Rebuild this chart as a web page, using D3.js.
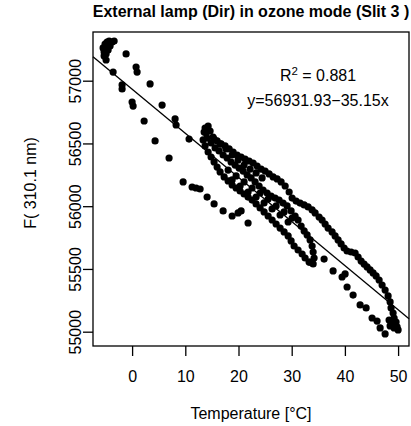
<!DOCTYPE html>
<html>
<head>
<meta charset="utf-8">
<script src="https://cdn.jsdelivr.net/npm/d3@7"></script>
<style>
body { margin: 0; background: #fff; }
svg { font-family: "Liberation Sans", Arial, Helvetica, sans-serif; }
</style>
</head>
<body>
<svg width="411" height="426"></svg>
<script>
// temperature [°C] and F(310.1 nm)
var temperature = [
  // cold start, top left
  -5.45, -5.08, -4.70, -4.32, -3.76, -3.38, -5.26, -5.26, -4.89, -4.51, -4.14, -4.89, -4.70,
  // sparse upper trail
  -1.13, 0.75, 0.94, 3.38, 5.64, 8.08, 8.27, 10.71,
  // sparse lower trail
  -3.57, -1.88, -1.88, 0.00, 0.19, 2.26, 4.32, 6.95, 9.59, 11.28, 12.03, 12.78, 14.10, 15.41, 17.11, 18.80, 19.92, 20.49, 21.80,
  // warm end, lower trail
  36.09, 37.78, 39.47, 40.04, 40.41, 41.54, 42.86, 43.99, 45.11, 46.05, 46.62, 47.56,
  // loop, upper outer band
  13.72, 13.91, 14.29, 14.66, 15.22, 15.98, 16.73, 17.48, 18.24, 18.99, 19.74, 20.49, 21.24, 21.99, 22.75, 23.50,
  24.25, 25.00, 25.76, 26.51, 27.26, 28.01, 28.77, 29.52, 30.08, 30.83, 31.58, 32.34, 33.09, 33.84, 34.40, 35.15,
  35.71, 36.28, 36.84, 37.59, 38.16, 38.72, 39.28, 39.85, 40.41, 41.17, 41.92, 42.48, 43.05, 43.61, 44.17, 44.74,
  45.30, 45.86, 46.43, 46.99, 47.56, 48.12, 48.50, 48.68, 49.06, 49.25, 49.62, 49.81, 49.25, 48.50, 48.31, 48.87, 50.00,
  // loop, second upper band
  15.41, 16.54, 17.67, 18.80, 19.92, 21.05, 22.18, 23.31, 24.44,
  // loop, inner band
  14.10, 14.85, 15.60, 16.35, 17.11, 17.86, 18.61, 19.36, 20.11, 20.87, 21.62, 22.37, 23.12, 23.87, 24.62, 25.38,
  26.13, 26.88, 27.63, 28.38, 29.14, 29.89, 30.64, 31.20, 31.77, 32.34, 32.90, 33.46, 33.84, 34.03, 34.21, 34.03, 33.46,
  // loop, lower band
  13.35, 13.72, 14.29, 14.85, 15.41, 15.98, 16.54, 17.30, 18.05, 18.80, 19.55, 20.30, 21.05, 21.80, 22.56, 23.31,
  24.06, 24.81, 25.57, 26.32, 27.07, 27.82, 28.57, 29.33, 29.89, 30.45, 31.20, 31.96, 32.52, 33.27,
  // loop, second lower band
  18.80, 20.30, 21.80, 23.31, 24.81, 26.32, 27.82, 29.33,
  // loop, middle band
  18.05, 19.55, 21.05, 22.56, 24.06, 25.57, 27.07, 28.57, 30.08, 13.54
];
var intensity = [
  57261, 57292, 57308, 57316, 57308, 57316, 57229, 57197, 57165, 57245, 57276, 57213, 57269,
  57213, 57109, 57069, 56974, 56806, 56695, 56647, 56535,
  57069, 56966, 56934, 56830, 56798, 56679, 56520, 56384, 56193, 56153, 56145, 56137, 56073, 56018, 55962, 55922, 55946, 55962, 55866,
  55579, 55484, 55436, 55460, 55356, 55292, 55213, 55189, 55109, 55085, 55030, 54982,
  56623, 56583, 56639, 56599, 56551, 56520, 56496, 56480, 56456, 56432, 56408, 56392, 56376, 56360, 56344, 56320,
  56296, 56280, 56257, 56233, 56217, 56193, 56161, 56113, 56065, 56041, 56025, 56010, 55994, 55970, 55946, 55914,
  55890, 55858, 55826, 55795, 55763, 55731, 55699, 55667, 55643, 55635, 55627, 55595, 55563, 55539, 55516, 55492,
  55468, 55444, 55412, 55372, 55332, 55285, 55237, 55189, 55149, 55109, 55077, 55038, 55030, 55046, 55093, 55062, 55014,
  56535, 56496, 56456, 56408, 56368, 56328, 56296, 56265, 56225,
  56543, 56504, 56464, 56440, 56408, 56384, 56352, 56328, 56304, 56280, 56249, 56225, 56193, 56161, 56129, 56105,
  56081, 56065, 56049, 56025, 56002, 55962, 55922, 55890, 55842, 55803, 55771, 55731, 55683, 55635, 55587, 55540, 55555,
  56528, 56480, 56432, 56392, 56352, 56312, 56273, 56233, 56201, 56169, 56145, 56121, 56097, 56073, 56049, 56018,
  55986, 55954, 55922, 55890, 55858, 55826, 55795, 55763, 55723, 55683, 55651, 55619, 55587, 55555,
  56209, 56161, 56113, 56073, 56026, 55978, 55930, 55874,
  56288, 56241, 56193, 56145, 56105, 56057, 56002, 55954, 55906, 56591
];

var xTicks = [0, 10, 20, 30, 40, 50];
var yTicks = [55000, 55500, 56000, 56500, 57000];

var fitIntercept = 56931.93;
var fitSlope = -35.15;
var rSquared = 0.881;

var svgctrl = d3.select('svg');

var x = d3.scaleLinear().domain([-7.35, 52.05]).range([93, 409]);
var y = d3.scaleLinear().domain([54886, 57388]).range([346, 32]);

// points
svgctrl.append('g').selectAll('circle')
  .data(temperature)
  .enter().append('circle')
  .attr('cx', function(d) { return x(d); })
  .attr('cy', function(d, i) { return y(intensity[i]); })
  .attr('r', 3.6)
  .attr('fill', 'black');

// regression line across the plot
var xd = x.domain();
svgctrl.append('line')
  .attr('x1', x(xd[0])).attr('y1', y(fitIntercept + fitSlope * xd[0]))
  .attr('x2', x(xd[1])).attr('y2', y(fitIntercept + fitSlope * xd[1]))
  .attr('stroke', 'black').attr('stroke-width', 1.3);

// box
svgctrl.append('rect')
  .attr('x', 93).attr('y', 32).attr('width', 316).attr('height', 314)
  .attr('fill', 'none').attr('stroke', 'black').attr('stroke-width', 1.3);

// axes
var xAxis = svgctrl.append('g')
  .attr('transform', 'translate(0,346)')
  .call(d3.axisBottom(x).tickValues(xTicks).tickSize(10).tickPadding(15).tickFormat(d3.format('d')));
xAxis.select('.domain').remove();
xAxis.selectAll('line').attr('stroke-width', 1.3);
xAxis.selectAll('text').attr('font-size', 16).attr('font-family', null).attr('fill', 'black');

var yAxis = svgctrl.append('g')
  .attr('transform', 'translate(93,0)')
  .call(d3.axisLeft(y).tickValues(yTicks).tickSize(10).tickFormat(d3.format('d')));
yAxis.select('.domain').remove();
yAxis.selectAll('line').attr('stroke-width', 1.3);
yAxis.selectAll('text')
  .attr('x', 0).attr('y', -12).attr('dy', 0)
  .attr('transform', 'rotate(-90)')
  .attr('text-anchor', 'middle')
  .attr('font-size', 16).attr('font-family', null).attr('fill', 'black');

// titles
svgctrl.append('text')
  .attr('x', 251).attr('y', 16.5)
  .attr('text-anchor', 'middle')
  .attr('font-size', 16).attr('font-weight', 'bold')
  .text('External lamp (Dir) in ozone mode (Slit 3 )');

svgctrl.append('text')
  .attr('x', 251).attr('y', 419)
  .attr('text-anchor', 'middle')
  .attr('font-size', 16)
  .text('Temperature [°C]');

svgctrl.append('text')
  .attr('transform', 'translate(36,183) rotate(-90)')
  .attr('text-anchor', 'middle')
  .attr('font-size', 16)
  .text('F( 310.1 nm)');

// fit annotation
var r2 = svgctrl.append('text')
  .attr('x', 318).attr('y', 80.5)
  .attr('text-anchor', 'middle')
  .attr('font-size', 16);
r2.append('tspan').text('R');
r2.append('tspan').attr('font-size', 11.5).attr('dy', -6).text('2');
r2.append('tspan').attr('dy', 6).text(' = ' + rSquared);

svgctrl.append('text')
  .attr('x', 318).attr('y', 106)
  .attr('text-anchor', 'middle')
  .attr('font-size', 16)
  .text('y=' + fitIntercept + '\u2212' + Math.abs(fitSlope) + 'x');
</script>
</body>
</html>
